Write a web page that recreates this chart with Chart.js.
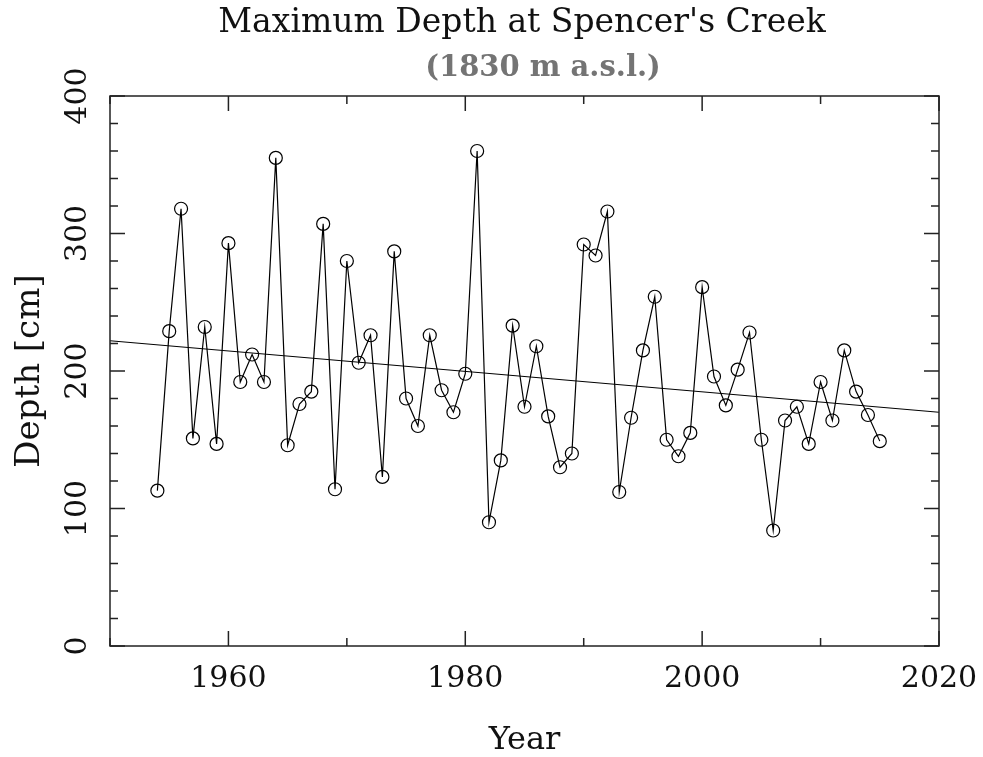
<!DOCTYPE html>
<html>
<head>
<meta charset="utf-8">
<title>Maximum Depth at Spencer's Creek</title>
<script src="https://cdn.jsdelivr.net/npm/chart.js@4/dist/chart.umd.min.js"></script>
<style>
  html, body { margin: 0; padding: 0; background: #fff; }
  #wrap { width: 983px; height: 757px; }
</style>
</head>
<body>
<div id="wrap"><canvas id="chart"></canvas></div>
<script>
// Chart data
const years = [
  1954, 1955, 1956, 1957, 1958, 1959, 1960, 1961, 1962, 1963,
  1964, 1965, 1966, 1967, 1968, 1969, 1970, 1971, 1972, 1973,
  1974, 1975, 1976, 1977, 1978, 1979, 1980, 1981, 1982, 1983,
  1984, 1985, 1986, 1987, 1988, 1989, 1990, 1991, 1992, 1993,
  1994, 1995, 1996, 1997, 1998, 1999, 2000, 2001, 2002, 2003,
  2004, 2005, 2006, 2007, 2008, 2009, 2010, 2011, 2012, 2013,
  2014, 2015
];
const depths = [
  113, 229, 318, 151, 232, 147, 293, 192, 212, 192,
  355, 146, 176, 185, 307, 114, 280, 206, 226, 123,
  287, 180, 160, 226, 186, 170, 198, 360, 90, 135,
  233, 174, 218, 167, 130, 140, 292, 284, 316, 112,
  166, 215, 254, 150, 138, 155, 261, 196, 175, 201,
  228, 150, 84, 164, 174, 147, 192, 164, 215, 185,
  168, 149
];
// Linear trend line (end points)
const trendYears = [1950, 2020];
const trendDepths = [222, 170];

// Tick labels
const xTickLabels = [1960, 1980, 2000, 2020];
const yTickLabels = [0, 100, 200, 300, 400];

const titleText = "Maximum Depth at Spencer's Creek";
const subtitleText = '(1830 m a.s.l.)';

const serif = '"DejaVu Serif", "Liberation Serif", serif';
const ink = '#111';

// Inward tick marks, frame and titles
const framePlugin = {
  id: 'frame',
  afterDraw(chart) {
    const { ctx, chartArea: a, scales: { x, y } } = chart;
    ctx.save();
    ctx.strokeStyle = '#222';
    ctx.lineWidth = 1.5;
    ctx.strokeRect(a.left, a.top, a.right - a.left, a.bottom - a.top);

    ctx.beginPath();
    for (let v = x.min; v <= x.max; v += 10) {
      const px = x.getPixelForValue(v);
      const len = v % 20 === 0 ? 15 : 8;
      ctx.moveTo(px, a.bottom); ctx.lineTo(px, a.bottom - len);
      ctx.moveTo(px, a.top); ctx.lineTo(px, a.top + len);
    }
    for (let v = y.min; v <= y.max; v += 20) {
      const py = y.getPixelForValue(v);
      const len = v % 100 === 0 ? 15 : 8;
      ctx.moveTo(a.left, py); ctx.lineTo(a.left + len, py);
      ctx.moveTo(a.right, py); ctx.lineTo(a.right - len, py);
    }
    ctx.stroke();

    ctx.textAlign = 'center';
    ctx.textBaseline = 'middle';
    ctx.fillStyle = ink;
    ctx.font = '33px ' + serif;
    ctx.fillText(titleText, 522, 23);
    ctx.fillStyle = '#747474';
    ctx.font = 'bold 29px ' + serif;
    ctx.fillText(subtitleText, 543, 68);
    ctx.restore();
  }
};

const ctx = document.getElementById('chart').getContext('2d');
new Chart(ctx, {
  type: 'line',
  data: {
    datasets: [
      {
        label: 'Depth',
        data: years.map((yr, i) => ({ x: yr, y: depths[i] })),
        borderColor: '#000',
        borderWidth: 1.2,
        pointStyle: 'circle',
        pointRadius: 6.5,
        pointBorderWidth: 1.2,
        pointBorderColor: '#000',
        pointBackgroundColor: 'rgba(0,0,0,0)',
        tension: 0
      },
      {
        label: 'Trend',
        data: trendYears.map((yr, i) => ({ x: yr, y: trendDepths[i] })),
        borderColor: '#000',
        borderWidth: 1.2,
        pointRadius: 0,
        tension: 0
      }
    ]
  },
  options: {
    responsive: true,
    maintainAspectRatio: false,
    animation: false,
    layout: { padding: { top: 96, right: 44, left: 0, bottom: 0 } },
    plugins: {
      legend: { display: false },
      tooltip: { enabled: false }
    },
    scales: {
      x: {
        type: 'linear',
        min: 1950,
        max: 2020,
        afterBuildTicks: (scale) => { scale.ticks = xTickLabels.map(v => ({ value: v })); },
        afterFit: (scale) => {
          scale.height = 111;
          scale.paddingLeft = 0;
          scale.paddingRight = 0;
        },
        grid: { display: false, drawTicks: false },
        border: { display: false },
        ticks: {
          color: ink,
          font: { family: serif, size: 30 },
          padding: 15,
          maxRotation: 0,
          callback: (v) => String(v)
        },
        title: {
          display: true,
          text: 'Year',
          color: ink,
          font: { family: serif, size: 32 },
          padding: { top: 0, bottom: -3 }
        }
      },
      y: {
        min: 0,
        max: 400,
        afterBuildTicks: (scale) => { scale.ticks = yTickLabels.map(v => ({ value: v })); },
        afterFit: (scale) => {
          scale.width = 110;
          scale.paddingTop = 0;
          scale.paddingBottom = 0;
        },
        grid: { display: false, drawTicks: false },
        border: { display: false },
        ticks: {
          color: ink,
          font: { family: serif, size: 30 },
          minRotation: 90,
          maxRotation: 90,
          crossAlign: 'center',
          padding: 3,
          callback: (v) => String(v)
        },
        title: {
          display: true,
          text: 'Depth [cm]',
          color: ink,
          font: { family: serif, size: 34 },
          padding: { top: 10, bottom: 0 }
        }
      }
    }
  },
  plugins: [framePlugin]
});
</script>
</body>
</html>
